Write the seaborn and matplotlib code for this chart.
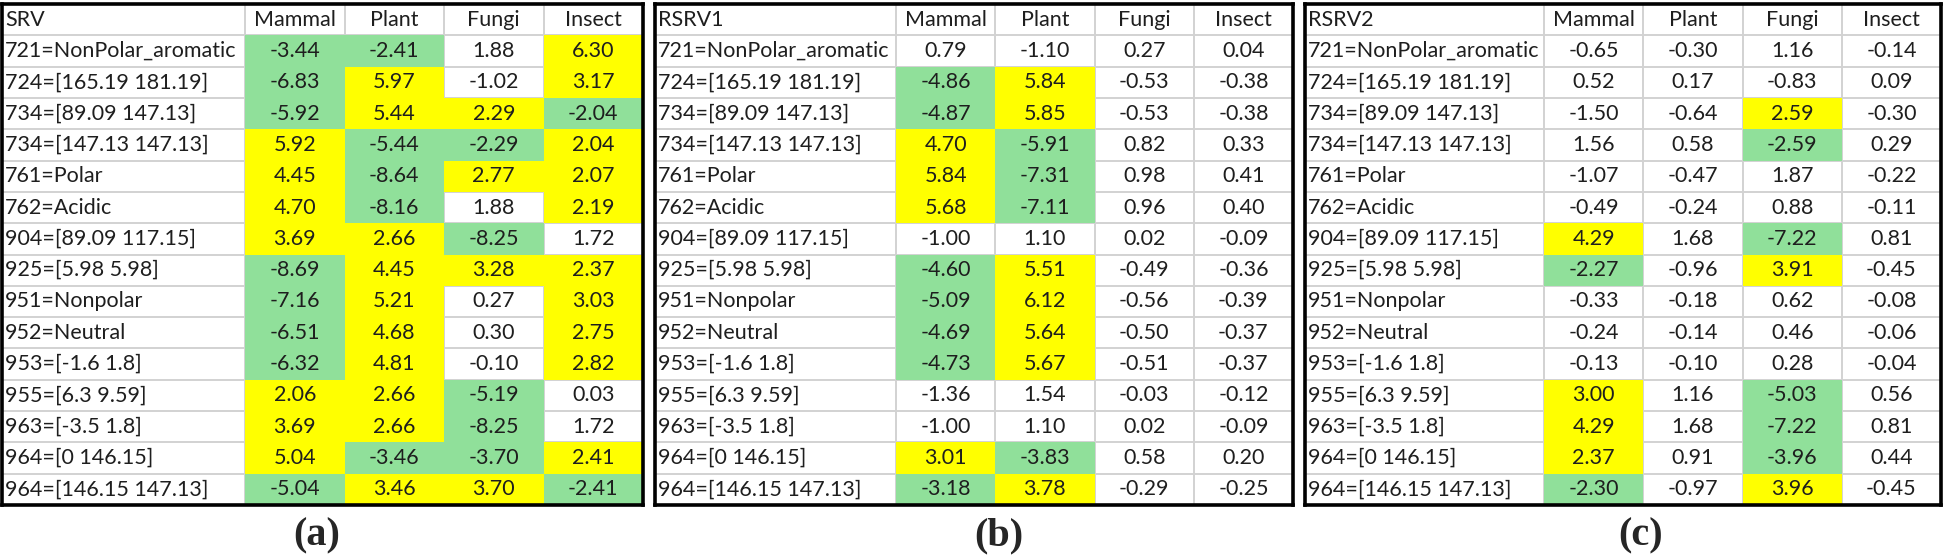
import numpy as np
import pandas as pd
import seaborn as sns
import matplotlib.pyplot as plt
from matplotlib.colors import ListedColormap

features = [
    "721=NonPolar_aromatic",
    "724=[165.19 181.19]",
    "734=[89.09 147.13]",
    "734=[147.13 147.13]",
    "761=Polar",
    "762=Acidic",
    "904=[89.09 117.15]",
    "925=[5.98 5.98]",
    "951=Nonpolar",
    "952=Neutral",
    "953=[-1.6 1.8]",
    "955=[6.3 9.59]",
    "963=[-3.5 1.8]",
    "964=[0 146.15]",
    "964=[146.15 147.13]",
]
organisms = ["Mammal", "Plant", "Fungi", "Insect"]

srv = [
    [-3.44, -2.41, 1.88, 6.30],
    [-6.83, 5.97, -1.02, 3.17],
    [-5.92, 5.44, 2.29, -2.04],
    [5.92, -5.44, -2.29, 2.04],
    [4.45, -8.64, 2.77, 2.07],
    [4.70, -8.16, 1.88, 2.19],
    [3.69, 2.66, -8.25, 1.72],
    [-8.69, 4.45, 3.28, 2.37],
    [-7.16, 5.21, 0.27, 3.03],
    [-6.51, 4.68, 0.30, 2.75],
    [-6.32, 4.81, -0.10, 2.82],
    [2.06, 2.66, -5.19, 0.03],
    [3.69, 2.66, -8.25, 1.72],
    [5.04, -3.46, -3.70, 2.41],
    [-5.04, 3.46, 3.70, -2.41],
]
rsrv1 = [
    [0.79, -1.10, 0.27, 0.04],
    [-4.86, 5.84, -0.53, -0.38],
    [-4.87, 5.85, -0.53, -0.38],
    [4.70, -5.91, 0.82, 0.33],
    [5.84, -7.31, 0.98, 0.41],
    [5.68, -7.11, 0.96, 0.40],
    [-1.00, 1.10, 0.02, -0.09],
    [-4.60, 5.51, -0.49, -0.36],
    [-5.09, 6.12, -0.56, -0.39],
    [-4.69, 5.64, -0.50, -0.37],
    [-4.73, 5.67, -0.51, -0.37],
    [-1.36, 1.54, -0.03, -0.12],
    [-1.00, 1.10, 0.02, -0.09],
    [3.01, -3.83, 0.58, 0.20],
    [-3.18, 3.78, -0.29, -0.25],
]
rsrv2 = [
    [-0.65, -0.30, 1.16, -0.14],
    [0.52, 0.17, -0.83, 0.09],
    [-1.50, -0.64, 2.59, -0.30],
    [1.56, 0.58, -2.59, 0.29],
    [-1.07, -0.47, 1.87, -0.22],
    [-0.49, -0.24, 0.88, -0.11],
    [4.29, 1.68, -7.22, 0.81],
    [-2.27, -0.96, 3.91, -0.45],
    [-0.33, -0.18, 0.62, -0.08],
    [-0.24, -0.14, 0.46, -0.06],
    [-0.13, -0.10, 0.28, -0.04],
    [3.00, 1.16, -5.03, 0.56],
    [4.29, 1.68, -7.22, 0.81],
    [2.37, 0.91, -3.96, 0.44],
    [-2.30, -0.97, 3.96, -0.45],
]
panel_names = ["SRV", "RSRV1", "RSRV2"]
panel_tags = ["(a)", "(b)", "(c)"]
threshold = 1.96

GREEN = "#90e09a"
YELLOW = "#ffff00"
GRID = "#d2d2d2"
TXT = "#1e1e1e"
# green = significant negative, transparent = not significant, yellow = significant positive
cmap = ListedColormap([GREEN, (1, 1, 1, 0), YELLOW])

sns.set_theme(style="white")
plt.rcParams["font.family"] = ["Lato", "DejaVu Sans"]

W, H = 1946, 556
fig = plt.figure(figsize=(W / 100, H / 100), dpi=100)
fig.patch.set_facecolor("white")

# pixel layout: left border, start of Mammal column, right border; tag centre x
boxes = [(2, 245, 643, 317), (655, 896, 1293, 999), (1305, 1544, 1941, 1641)]
top, bottom = 4, 505
fs = 15.5

for name, tag, vals, (x0, xm, x1, xt) in zip(panel_names, panel_tags, [srv, rsrv1, rsrv2], boxes):
    df = pd.DataFrame(vals, index=features, columns=organisms)
    level = np.sign(df.where(df.abs() > threshold, 0))
    n = len(features)
    lab_w = (xm - x0) / ((x1 - xm) / len(organisms))

    ax = fig.add_axes([x0 / W, 1 - bottom / H, (x1 - x0) / W, (bottom - top) / H])
    ax.hlines(np.arange(0, n), -lab_w, len(organisms), color=GRID, lw=1.4, zorder=0.5)
    ax.vlines(np.arange(0, len(organisms)), -1, n, color=GRID, lw=1.4, zorder=0.5)

    sns.heatmap(level, cmap=cmap, vmin=-1.5, vmax=1.5, annot=df.values, fmt=".2f",
                cbar=False, ax=ax, annot_kws=dict(color=TXT, fontsize=fs))

    for i, f in enumerate(features):
        ax.text(-lab_w + 0.03, i + 0.5, f, ha="left", va="center", fontsize=fs, color=TXT)
    ax.text(-lab_w + 0.03, -0.5, name, ha="left", va="center", fontsize=fs, color=TXT)
    for j, org in enumerate(organisms):
        ax.text(j + 0.5, -0.5, org, ha="center", va="center", fontsize=fs, color=TXT)

    ax.set_xlim(-lab_w, len(organisms))
    ax.set_ylim(n, -1)
    ax.set_xticks([])
    ax.set_yticks([])
    ax.set_xlabel("")
    ax.set_ylabel("")
    for s in ax.spines.values():
        s.set_visible(True)
        s.set_color("black")
        s.set_linewidth(2.6)

    fig.text(xt / W, 1 - 536 / H, tag, ha="center", va="center", fontsize=29,
             fontweight="bold", family=["Liberation Serif", "DejaVu Serif"])

fig.savefig("out.png", dpi=100, facecolor="white")
